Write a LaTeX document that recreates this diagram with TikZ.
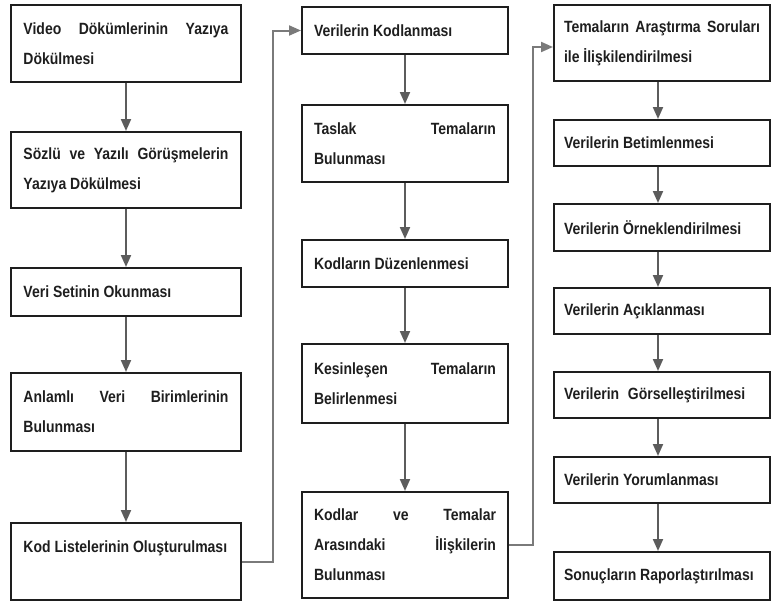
\documentclass[tikz,border=0pt]{standalone}
\usepackage{fontspec}
\setmainfont[FakeStretch=0.86]{Liberation Sans}
\usetikzlibrary{arrows.meta}
\definecolor{framegray}{HTML}{1E1E1E}
\definecolor{arrowgray}{HTML}{5C5C5C}
\definecolor{linkgray}{HTML}{7A7A7A}

\begin{document}
\begin{tikzpicture}[x=0.75pt, y=-0.75pt, >={Triangle[length=9pt, width=7.5pt]},
  box/.style={draw=framegray, line width=1.5pt, align=justify, inner ysep=0pt,
    font=\fontsize{12.2}{22.5}\selectfont\bfseries, text=framegray},
  colA/.style={box, text width=153.75pt, inner xsep=9.4pt},
  colB/.style={box, text width=136.5pt, inner xsep=9pt},
  colC/.style={box, text width=147pt, inner xsep=7.5pt},
  tall/.style={minimum height=#1*0.75pt},
  flow/.style={->, arrowgray, line width=1.5pt},
  link/.style={->, linkgray, line width=1.5pt}]
\useasboundingbox (0,0) rectangle (772,603);
% first column
\node[colA, tall=77] (b1) at (126,43.5) {Video Dökümlerinin Yazıya\linebreak Dökülmesi};
\node[colA, tall=76] (b2) at (126,170) {Sözlü ve Yazılı Görüşmelerin\linebreak Yazıya Dökülmesi};
\node[colA, tall=48] (b3) at (126,292) {Veri Setinin Okunması};
\node[colA, tall=78] (b4) at (126,412) {Anlamlı Veri Birimlerinin\linebreak Bulunması};
\node[colA, tall=77] (b5) at (126,561.5) {Kod Listelerinin Oluşturulması\\ \mbox{}};
% second column
\node[colB, tall=47] (c1) at (405,30.5) {Verilerin Kodlanması};
\node[colB, tall=77] (c2) at (405,143.5) {Taslak Temaların\linebreak Bulunması};
\node[colB, tall=47] (c3) at (405,263.5) {Kodların Düzenlenmesi};
\node[colB, tall=79] (c4) at (405,383.5) {Kesinleşen Temaların\linebreak Belirlenmesi};
\node[colB, tall=106] (c5) at (405,545) {Kodlar ve Temalar\linebreak Arasındaki İlişkilerin\linebreak Bulunması};
% third column
\node[colC, tall=76] (d1) at (662,43) {Temaların Araştırma Soruları\linebreak ile İlişkilendirilmesi};
\node[colC, tall=46] (d2) at (662,143) {Verilerin Betimlenmesi};
\node[colC, tall=47] (d3) at (662,227.5) {Verilerin Örneklendirilmesi};
\node[colC, tall=46] (d4) at (662,311) {Verilerin Açıklanması};
\node[colC, tall=46] (d5) at (662,395) {Verilerin\hspace{0.3em} Görselleştirilmesi};
\node[colC, tall=46] (d6) at (662,480) {Verilerin Yorumlanması};
\node[colC, tall=48] (d7) at (662,576) {Sonuçların Raporlaştırılması};
% arrows
\foreach \a/\b in {b1/b2,b2/b3,b3/b4,b4/b5,c1/c2,c2/c3,c3/c4,c4/c5}
  \draw[flow] (\a.south) -- (\b.north);
\foreach \a/\b in {d1/d2,d2/d3,d3/d4,d4/d5,d5/d6,d6/d7}
  \draw[flow] ([xshift=-3pt]\a.south) -- ([xshift=-3pt]\b.north);
\draw[link] (b5.east) -- ++(31,0) |- (c1.west);
\draw[link] (c5.east) -- ++(24,0) |- ([yshift=-3pt]d1.west);
\end{tikzpicture}
\end{document}
